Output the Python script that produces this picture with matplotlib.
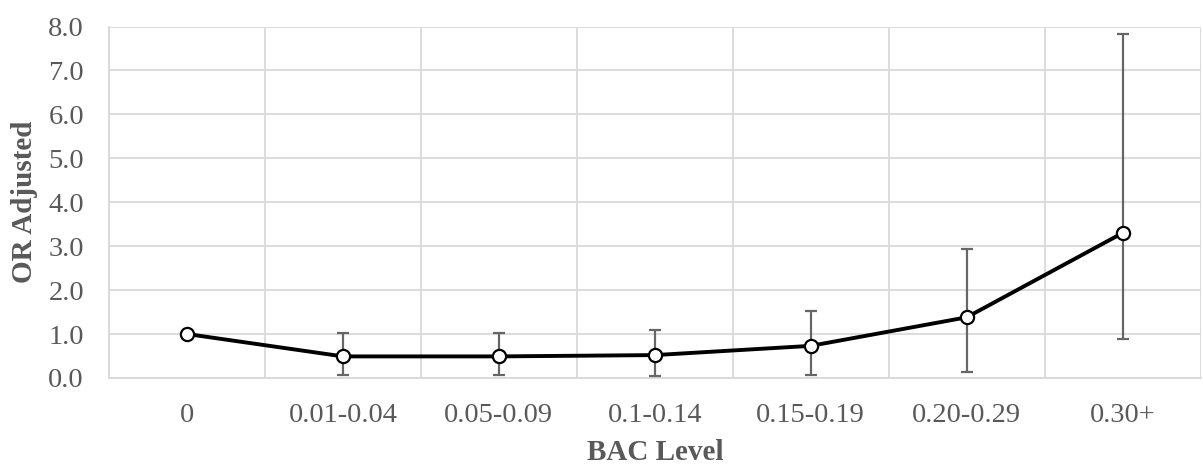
import matplotlib.pyplot as plt
import numpy as np

plt.rcParams['font.family'] = ['Liberation Serif', 'DejaVu Serif']

# Data
bac_levels = ['0', '0.01-0.04', '0.05-0.09', '0.1-0.14', '0.15-0.19', '0.20-0.29', '0.30+']
or_adjusted = [1.00, 0.49, 0.49, 0.52, 0.73, 1.38, 3.30]
ci_lower = [np.nan, 0.06, 0.06, 0.05, 0.06, 0.14, 0.88]
ci_upper = [np.nan, 1.03, 1.02, 1.09, 1.53, 2.93, 7.82]

TEXT_GREY = '#595959'
GRID_GREY = '#d9d9d9'

x = np.arange(len(bac_levels))
vals = np.array(or_adjusted)
lo = np.array(ci_lower)
hi = np.array(ci_upper)

fig = plt.figure(figsize=(12.03, 4.66), dpi=100)
ax = fig.add_axes([0.0906, 0.189, 0.9074, 0.754])

# Error bars (reference category has none)
has_ci = ~np.isnan(lo)
ax.errorbar(x[has_ci], vals[has_ci],
            yerr=[vals[has_ci] - lo[has_ci], hi[has_ci] - vals[has_ci]],
            fmt='none', ecolor='#666666', elinewidth=1.6, capsize=4.5, capthick=1.6,
            zorder=3)

ax.plot(x, vals, color='black', linewidth=2.8, marker='o', markersize=9.5,
        markerfacecolor='white', markeredgecolor='black', markeredgewidth=1.6,
        zorder=4)

ax.set_xlim(-0.5, len(bac_levels) - 0.5)
ax.set_ylim(0, 8)
ax.set_yticks(np.arange(0, 9, 1))
ax.set_yticklabels([f'{v:.1f}' for v in range(9)])
ax.set_xticks(x)
ax.set_xticklabels(bac_levels)
ax.set_xticks(np.arange(-0.5, len(bac_levels), 1), minor=True)

ax.grid(True, axis='y', which='major', color=GRID_GREY, linewidth=1.3)
ax.grid(True, axis='x', which='minor', color=GRID_GREY, linewidth=1.3)
ax.set_axisbelow(True)

for side in ['top', 'right']:
    ax.spines[side].set_visible(False)
for side in ['left', 'bottom']:
    ax.spines[side].set_color(GRID_GREY)
    ax.spines[side].set_linewidth(1.3)

ax.tick_params(axis='both', which='both', length=0, labelsize=20.5, colors=TEXT_GREY)
ax.tick_params(axis='x', pad=18)
ax.tick_params(axis='y', pad=18)

ax.set_xlabel('BAC Level', fontsize=21, fontweight='bold', color=TEXT_GREY, va='center')
ax.set_ylabel('OR Adjusted', fontsize=21, fontweight='bold', color=TEXT_GREY, va='center')
ax.xaxis.set_label_coords(0.5, -0.211)
ax.yaxis.set_label_coords(-0.077, 0.5)

fig.savefig('out.png', dpi=100)
